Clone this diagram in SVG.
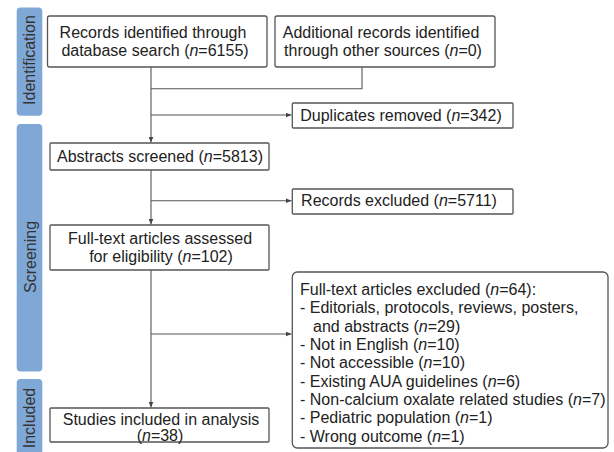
<svg xmlns="http://www.w3.org/2000/svg" width="614" height="452" viewBox="0 0 614 452">
<style>
.box{fill:#fff;stroke:#555;stroke-width:1.3}
.side{fill:#7fa8d6}
.t{font-family:"Liberation Sans",Arial,sans-serif;font-size:16px;fill:#222}
.m{text-anchor:middle}
.st{font-family:"Liberation Sans",Arial,sans-serif;font-size:16px;fill:#333;text-anchor:middle}
.c{fill:none;stroke:#555;stroke-width:1.1}
</style>
<defs>
<marker id="ah" markerWidth="6" markerHeight="5" refX="6" refY="2.5" orient="auto" markerUnits="userSpaceOnUse">
<path d="M0,0 L6,2.5 L0,5 Z" fill="#444"/>
</marker>
</defs>
<rect width="614" height="452" fill="#fff"/>
<g id="side-identification">
<rect class="side" x="16.7" y="7.5" width="25.6" height="108.2" rx="4"/>
<text class="st" transform="translate(35,60) rotate(-90)">Identification</text>
</g>
<g id="side-screening">
<rect class="side" x="16.7" y="124" width="25.6" height="247.5" rx="4"/>
<text class="st" font-size="17.5" transform="translate(35.5,257) rotate(-90)">Screening</text>
</g>
<g id="side-included">
<rect class="side" x="16.7" y="379" width="25.6" height="80" rx="4"/>
<text class="st" font-size="15.5" transform="translate(35,418) rotate(-90)">Included</text>
</g>
<g id="connectors">
<path class="c" d="M151,67 V142.5" marker-end="url(#ah)"/>
<path class="c" d="M362,67 V88.7 H151"/>
<path class="c" d="M151,115 H291.5" marker-end="url(#ah)"/>
<path class="c" d="M151,170 V224.5" marker-end="url(#ah)"/>
<path class="c" d="M151,200.7 H291.5" marker-end="url(#ah)"/>
<path class="c" d="M151,270 V407.5" marker-end="url(#ah)"/>
<path class="c" d="M151,334 H291.5" marker-end="url(#ah)"/>
</g>
<g id="n-records">
<rect class="box" x="47.5" y="16" width="219.5" height="51" rx="2"/>
<text class="t m" x="153" y="38">Records identified through</text>
<text class="t m" x="155" y="56">database search (<tspan font-style="italic">n</tspan>=6155)</text>
</g>
<g id="n-additional">
<rect class="box" x="275" y="16" width="220" height="51" rx="2"/>
<text class="t m" x="381" y="38">Additional records identified</text>
<text class="t m" x="383" y="56">through other sources (<tspan font-style="italic">n</tspan>=0)</text>
</g>
<g id="n-duplicates">
<rect class="box" x="292.3" y="103" width="220.7" height="25" rx="1"/>
<text class="t m" x="401" y="120.5">Duplicates removed (<tspan font-style="italic">n</tspan>=342)</text>
</g>
<g id="n-abstracts">
<rect class="box" x="50" y="143" width="219" height="27" rx="1"/>
<text class="t m" x="160" y="162">Abstracts screened (<tspan font-style="italic">n</tspan>=5813)</text>
</g>
<g id="n-excluded">
<rect class="box" x="292.3" y="189" width="220.7" height="25" rx="1"/>
<text class="t m" x="399" y="206">Records excluded (<tspan font-style="italic">n</tspan>=5711)</text>
</g>
<g id="n-fulltext">
<rect class="box" x="50" y="225" width="219" height="45" rx="1"/>
<text class="t m" x="160" y="244">Full-text articles assessed</text>
<text class="t m" x="161" y="262">for eligibility (<tspan font-style="italic">n</tspan>=102)</text>
</g>
<g id="n-ftexcluded">
<rect class="box" x="292.3" y="272" width="315.7" height="176" rx="5"/>
<text class="t" x="300" y="295">Full-text articles excluded (<tspan font-style="italic">n</tspan>=64):</text>
<text class="t" x="300" y="313.3">- Editorials, protocols, reviews, posters,</text>
<text class="t" x="313" y="331.6">and abstracts (<tspan font-style="italic">n</tspan>=29)</text>
<text class="t" x="300" y="350">- Not in English (<tspan font-style="italic">n</tspan>=10)</text>
<text class="t" x="300" y="368.3">- Not accessible (<tspan font-style="italic">n</tspan>=10)</text>
<text class="t" x="300" y="386.6">- Existing AUA guidelines (<tspan font-style="italic">n</tspan>=6)</text>
<text class="t" x="300" y="405">- Non-calcium oxalate related studies (<tspan font-style="italic">n</tspan>=7)</text>
<text class="t" x="300" y="423.3">- Pediatric population (<tspan font-style="italic">n</tspan>=1)</text>
<text class="t" x="300" y="441.6">- Wrong outcome (<tspan font-style="italic">n</tspan>=1)</text>
</g>
<g id="n-studies">
<rect class="box" x="50" y="408" width="219" height="34" rx="1"/>
<text class="t m" x="161" y="425">Studies included in analysis</text>
<text class="t m" x="160" y="441">(<tspan font-style="italic">n</tspan>=38)</text>
</g>
</svg>
